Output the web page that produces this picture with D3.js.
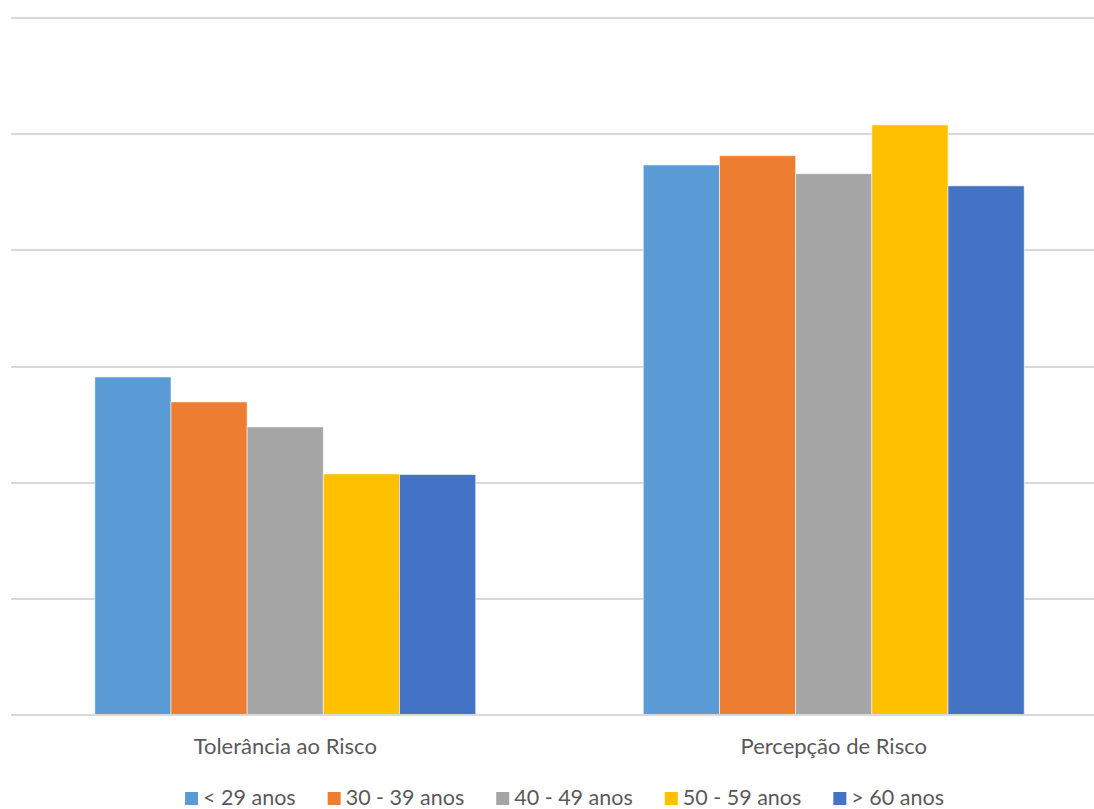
<!DOCTYPE html>
<html>
<head>
<meta charset="utf-8">
<script src="https://cdn.jsdelivr.net/npm/d3@7"></script>
<style>
  html, body { margin: 0; padding: 0; background: #fff; }
  svg { display: block; }
  text { font-family: Lato, "Open Sans", sans-serif; fill: #595959; }
</style>
</head>
<body>
<svg id="chart" width="1094" height="809"></svg>
<script>
// Categories on the x axis
const categories = ["Tolerância ao Risco", "Percepção de Risco"];
// Age groups (series)
const ageGroups = ["< 29 anos", "30 - 39 anos", "40 - 49 anos", "50 - 59 anos", "> 60 anos"];
// Mean scores per age group, one array per category
const toleranciaValues = [2.91, 2.695, 2.48, 2.075, 2.07];
const percepcaoValues = [4.735, 4.815, 4.66, 5.08, 4.555];
// Gridline values (no tick labels are drawn)
const gridTicks = [0, 1, 2, 3, 4, 5, 6];
const seriesColors = ["#5B9BD5", "#ED7D31", "#A5A5A5", "#FFC000", "#4472C4"];

const rows = categories.map((c, i) => ({
  category: c,
  values: (i === 0 ? toleranciaValues : percepcaoValues).map((v, j) => ({ group: ageGroups[j], value: v }))
}));

const svg = d3.select("#chart");
const width = 1094;
const plotLeft = 11, plotRight = 1108, plotTop = 18, plotBottom = 715;

const y = d3.scaleLinear().domain([0, 6]).range([plotBottom, plotTop]);
const x0 = d3.scaleBand().domain(categories).range([plotLeft, plotRight]).padding(0);
const x1 = d3.scaleBand().domain(ageGroups).range([0, x0.bandwidth()]).paddingInner(0).paddingOuter(1.1);
const color = d3.scaleOrdinal().domain(ageGroups).range(seriesColors);

// Horizontal gridlines
svg.append("g")
  .selectAll("line")
  .data(gridTicks)
  .join("line")
  .attr("x1", plotLeft)
  .attr("x2", width)
  .attr("y1", d => Math.round(y(d)))
  .attr("y2", d => Math.round(y(d)))
  .attr("stroke", "#d9d9d9")
  .attr("stroke-width", 2);

// Bars
const groups = svg.append("g")
  .selectAll("g")
  .data(rows)
  .join("g")
  .attr("transform", d => `translate(${x0(d.category)},0)`);

groups.selectAll("rect")
  .data(d => d.values)
  .join("rect")
  .attr("x", d => x1(d.group))
  .attr("y", d => y(d.value))
  .attr("width", x1.bandwidth())
  .attr("height", d => y(0) - y(d.value))
  .attr("fill", d => color(d.group))
  .attr("stroke", "rgba(255,255,255,0.55)")
  .attr("stroke-width", 1);

// Redraw baseline over bar bottoms
svg.append("line")
  .attr("x1", plotLeft).attr("x2", width)
  .attr("y1", Math.round(y(0))).attr("y2", Math.round(y(0)))
  .attr("stroke", "#d9d9d9").attr("stroke-width", 2);

// Category labels
svg.append("g")
  .selectAll("text")
  .data(categories)
  .join("text")
  .attr("x", d => x0(d) + x0.bandwidth() / 2)
  .attr("y", 754)
  .attr("text-anchor", "middle")
  .style("font-size", "22px")
  .text(d => d);

// Legend
const legend = svg.append("g");
const items = legend.selectAll("g")
  .data(ageGroups)
  .join("g");
items.append("rect")
  .attr("width", 13).attr("height", 13)
  .attr("y", 792)
  .attr("fill", d => color(d));
items.append("text")
  .attr("x", 18)
  .attr("y", 805)
  .style("font-size", "21.5px")
  .text(d => d);

const gap = 32;
let widths = [];
items.each(function() {
  widths.push(18 + d3.select(this).select("text").node().getComputedTextLength());
});
const total = d3.sum(widths) + gap * (widths.length - 1);
let cursor = 564.5 - total / 2;
items.each(function(d, i) {
  d3.select(this).attr("transform", `translate(${cursor},0)`);
  cursor += widths[i] + gap;
});
</script>
</body>
</html>
